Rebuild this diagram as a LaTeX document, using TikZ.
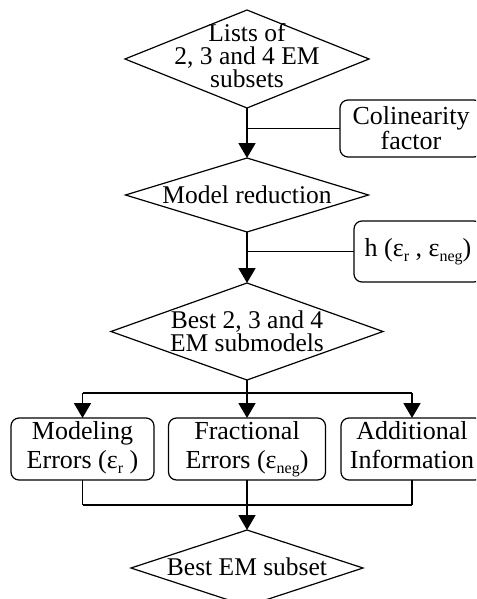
\documentclass[tikz,border=0pt]{standalone}
\usepackage{fontspec}
\setmainfont{Liberation Serif}
\usetikzlibrary{shapes.geometric,arrows.meta}
\newcommand{\lowsub}[1]{\raisebox{-0.2em}{\fontsize{16}{16}\selectfont #1}}
\newcommand{\eqdepth}{\vphantom{(ε\lowsub{neg})}}
\begin{document}
\begin{tikzpicture}[x=1pt,y=-1pt,
  dia/.style={draw, diamond, line width=1.2pt, inner sep=0pt, outer sep=0pt},
  box/.style={draw, rounded corners=8pt, line width=1.2pt, align=center, inner sep=0pt, outer sep=0pt, font=\fontsize{26}{29}\selectfont},
  txt/.style={align=center, inner sep=0pt, font=\fontsize{25.5}{23}\selectfont},
  trunk/.style={line width=1.8pt},
  arr/.style={line width=1.8pt, -{Triangle[width=17pt,length=15pt]}},
  branch/.style={line width=1.3pt}]
\clip (0,0) rectangle (476,599);
% decision shapes
\node[dia, minimum width=244pt, minimum height=98pt] (d1) at (247,59) {};
\node[txt] (t1) at (247,56) {Lists of\\2, 3 and 4 EM\\subsets};
\node[dia, minimum width=243pt, minimum height=74pt] (d2) at (247,195) {};
\node[txt, anchor=base] (t2) at (247,203) {Model reduction};
\node[dia, minimum width=272pt, minimum height=97pt] (d3) at (247,331.5) {};
\node[txt] (t3) at (247,331) {Best 2, 3 and 4\\EM submodels};
\node[dia, minimum width=232pt, minimum height=76pt] (d4) at (247,568) {};
\node[txt, anchor=base] (t4) at (247,575) {Best EM subset};
% boxes
\node[box, minimum width=142pt, minimum height=57pt, font=\fontsize{26}{25}\selectfont] (col) at (411,128.5) {Colinearity\\factor};
\node[box, minimum width=128pt, minimum height=61pt] (hb) at (418,251.5) {h (ε\lowsub{r} , ε\lowsub{neg})};
\node[box, minimum width=143pt, minimum height=62pt] (b1) at (82.5,449) {Modeling\\Errors (ε\lowsub{r} )\eqdepth};
\node[box, minimum width=157pt, minimum height=62pt] (b2) at (247,449) {Fractional\\Errors (ε\lowsub{neg})};
\node[box, minimum width=142pt, minimum height=62pt] (b3) at (412,449) {Additional\\Information\eqdepth};
% connectors
\coordinate (j1) at (247,393);
\coordinate (j2) at (247,505);
\draw[arr] (d1.south) -- (d2.north);
\draw[branch] (col.west) -- (col.west -| d1.south);
\draw[arr] (d2.south) -- (d3.north);
\draw[branch] (hb.west) -- (hb.west -| d2.south);
\draw[trunk] (d3.south) -- (j1);
\draw[branch] (j1 -| b1.north) -- (j1 -| b3.north);
\draw[arr] (j1 -| b1.north) -- (b1.north);
\draw[arr] (j1) -- (b2.north);
\draw[arr] (j1 -| b3.north) -- (b3.north);
\draw[trunk] (b1.south) -- (j2 -| b1.south);
\draw[trunk] (b2.south) -- (j2);
\draw[trunk] (b3.south) -- (j2 -| b3.south);
\draw[branch] (j2 -| b1.south) -- (j2 -| b3.south);
\draw[arr] (j2) -- (d4.north);
\end{tikzpicture}
\end{document}
